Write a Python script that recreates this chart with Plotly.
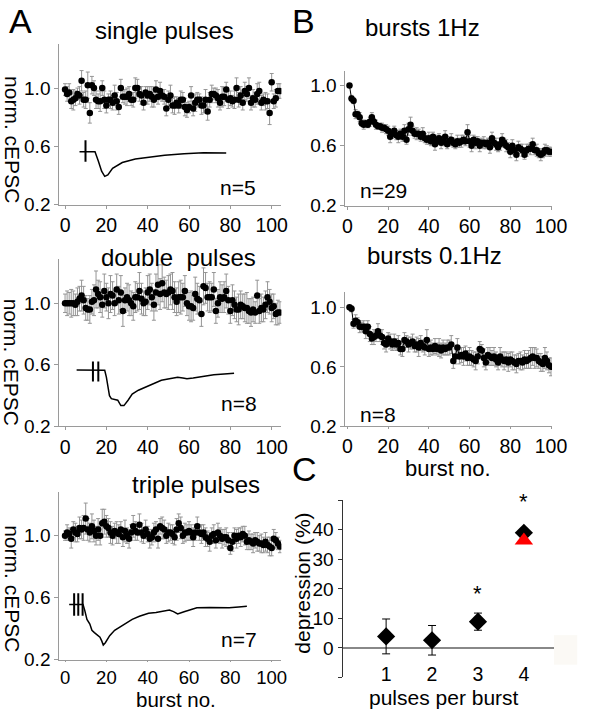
import plotly.graph_objects as go

FONT = "Liberation Sans, Arial, sans-serif"

# ---------------- data ----------------
burst_A = list(range(0, 105))
burst_B = list(range(1, 101))

single_mean = [0.99,0.96,0.97,0.91,0.92,0.93,0.96,0.95,1.05,0.92,0.92,1.02,0.83,1.02,1.00,
0.92,0.91,0.91,1.00,0.92,0.88,0.92,0.92,0.90,0.95,0.91,0.87,1.00,0.94,0.94,
0.94,0.96,0.92,0.92,1.00,1.00,0.96,0.95,0.90,0.97,0.95,0.96,0.94,0.92,0.99,
0.94,0.98,0.95,0.94,0.86,0.92,0.95,0.88,0.88,0.90,0.88,0.92,0.92,0.87,0.85,
0.87,0.95,0.86,0.90,0.92,0.92,0.88,0.88,0.92,0.84,0.92,0.96,0.96,0.95,0.93,
0.90,0.94,0.94,0.99,0.92,0.93,0.91,0.92,1.00,0.92,0.95,0.90,0.98,0.96,1.00,
0.90,0.93,0.92,0.96,0.98,0.90,0.92,0.91,0.91,0.83,1.04,0.91,0.93,0.98,0.98]
single_err = [0.04,0.05,0.06,0.05,0.07,0.05,0.04,0.06,0.07,0.05,0.06,0.09,0.07,0.06,0.05,
0.06,0.05,0.07,0.05,0.06,0.05,0.04,0.06,0.05,0.07,0.06,0.05,0.06,0.04,0.05,
0.06,0.05,0.04,0.05,0.07,0.06,0.05,0.06,0.05,0.04,0.06,0.05,0.07,0.05,0.06,
0.05,0.06,0.04,0.05,0.05,0.06,0.07,0.05,0.06,0.04,0.05,0.06,0.05,0.06,0.05,
0.04,0.06,0.05,0.06,0.05,0.04,0.06,0.05,0.07,0.06,0.05,0.06,0.04,0.05,0.06,
0.05,0.07,0.06,0.05,0.06,0.05,0.04,0.06,0.07,0.05,0.06,0.05,0.06,0.05,0.07,
0.05,0.06,0.05,0.07,0.06,0.05,0.04,0.06,0.05,0.08,0.06,0.05,0.06,0.05,0.05]

double_mean = [1.00,1.00,1.00,1.00,1.00,0.99,1.01,1.03,1.05,1.02,0.97,0.96,0.96,1.01,1.02,
1.09,1.06,1.04,0.99,1.08,1.04,1.00,1.06,1.05,1.00,1.09,1.02,1.07,0.95,1.02,
1.04,1.02,1.00,0.98,1.04,1.04,1.08,1.03,1.00,1.01,1.07,1.09,1.04,0.99,1.07,
1.12,1.06,1.13,1.07,1.06,1.07,1.09,1.08,1.04,1.01,1.04,1.04,1.04,1.08,1.00,
0.98,0.98,0.97,1.06,1.03,1.02,0.93,1.11,1.10,1.04,1.04,1.04,1.09,0.95,1.00,
1.04,1.03,1.04,1.08,1.02,0.95,1.02,0.99,0.96,0.96,0.99,0.98,0.97,0.97,0.95,
0.94,0.96,0.94,1.05,0.95,0.97,0.96,0.99,1.04,1.01,0.97,0.98,0.93,0.94,0.94]
double_err = [0.06,0.08,0.07,0.09,0.08,0.07,0.09,0.08,0.10,0.09,0.08,0.07,0.09,0.08,0.10,
0.12,0.09,0.10,0.08,0.11,0.09,0.10,0.12,0.09,0.08,0.10,0.09,0.11,0.10,0.08,
0.09,0.10,0.08,0.09,0.10,0.09,0.12,0.10,0.08,0.09,0.11,0.10,0.09,0.10,0.12,
0.13,0.10,0.12,0.10,0.09,0.11,0.10,0.12,0.10,0.09,0.10,0.11,0.09,0.10,0.08,
0.09,0.10,0.08,0.11,0.10,0.09,0.08,0.12,0.10,0.09,0.10,0.09,0.11,0.08,0.09,
0.10,0.09,0.10,0.11,0.09,0.08,0.10,0.09,0.08,0.10,0.09,0.08,0.09,0.10,0.08,
0.09,0.08,0.07,0.10,0.08,0.09,0.08,0.09,0.10,0.08,0.09,0.08,0.07,0.08,0.07]

triple_mean = [1.00,1.02,1.01,0.98,1.04,1.02,1.01,1.05,1.04,1.05,1.11,1.04,1.02,1.06,1.03,
1.00,1.04,1.00,1.08,1.09,1.06,1.05,1.02,1.00,1.03,1.02,1.01,1.04,0.99,1.03,
1.00,0.98,1.02,1.06,1.03,1.02,1.07,1.02,1.00,1.04,1.01,0.98,0.99,1.02,1.04,
0.98,1.06,1.05,1.04,1.00,1.02,1.02,1.01,0.99,1.04,1.08,1.05,1.00,1.02,1.02,
1.03,1.02,0.99,1.02,1.06,1.02,1.01,1.02,0.99,0.98,0.96,1.00,1.01,0.97,1.02,
1.00,0.98,0.99,0.99,0.97,0.92,0.96,1.00,0.98,1.00,0.99,1.01,1.00,0.96,0.97,
0.96,0.95,0.97,0.96,0.95,0.95,0.94,0.96,0.94,0.93,0.92,0.98,0.97,0.95,0.93]
triple_err = [0.03,0.05,0.04,0.06,0.05,0.06,0.05,0.07,0.06,0.08,0.10,0.07,0.06,0.08,0.07,
0.06,0.07,0.06,0.09,0.08,0.07,0.06,0.07,0.06,0.05,0.07,0.06,0.05,0.06,0.07,
0.05,0.06,0.05,0.07,0.06,0.05,0.07,0.06,0.05,0.06,0.05,0.06,0.05,0.06,0.05,
0.06,0.05,0.07,0.06,0.05,0.06,0.05,0.06,0.05,0.07,0.06,0.07,0.05,0.06,0.05,
0.06,0.05,0.06,0.05,0.06,0.05,0.06,0.05,0.06,0.05,0.06,0.05,0.06,0.05,0.06,
0.05,0.06,0.05,0.06,0.05,0.04,0.06,0.05,0.06,0.05,0.06,0.05,0.06,0.05,0.06,
0.05,0.06,0.05,0.06,0.05,0.06,0.05,0.06,0.05,0.06,0.05,0.06,0.05,0.04,0.04]

hz1_mean = [1.00,0.915,0.90,0.81,0.81,0.79,0.75,0.74,0.75,0.74,
0.76,0.79,0.76,0.74,0.73,0.73,0.72,0.72,0.71,0.70,
0.66,0.68,0.70,0.67,0.66,0.68,0.66,0.70,0.64,0.71,
0.74,0.70,0.68,0.68,0.68,0.66,0.68,0.65,0.64,0.65,
0.63,0.66,0.61,0.64,0.65,0.62,0.63,0.66,0.61,0.63,
0.64,0.62,0.61,0.63,0.62,0.63,0.64,0.63,0.69,0.63,
0.60,0.64,0.62,0.63,0.60,0.62,0.62,0.61,0.62,0.59,
0.65,0.62,0.61,0.59,0.61,0.64,0.62,0.60,0.59,0.56,
0.60,0.57,0.54,0.59,0.58,0.57,0.54,0.57,0.58,0.58,
0.61,0.57,0.57,0.55,0.54,0.55,0.57,0.57,0.56,0.56]
hz1_err = [0.005,0.02,0.02,0.03,0.02,0.03,0.02,0.03,0.02,0.02,
0.03,0.03,0.02,0.03,0.02,0.02,0.03,0.02,0.03,0.03,
0.04,0.03,0.03,0.03,0.04,0.03,0.03,0.04,0.03,0.04,
0.05,0.03,0.03,0.04,0.03,0.03,0.04,0.03,0.03,0.04,
0.03,0.03,0.04,0.03,0.03,0.04,0.03,0.04,0.03,0.03,
0.04,0.03,0.03,0.04,0.03,0.04,0.03,0.03,0.05,0.04,
0.04,0.03,0.04,0.03,0.04,0.03,0.04,0.03,0.03,0.04,
0.04,0.03,0.04,0.03,0.04,0.04,0.03,0.04,0.03,0.04,
0.04,0.03,0.04,0.04,0.03,0.04,0.03,0.04,0.03,0.04,
0.04,0.03,0.04,0.03,0.04,0.03,0.04,0.03,0.03,0.03]

hz01_mean = [1.00,0.99,0.89,0.91,0.90,0.87,0.87,0.87,0.84,0.87,
0.82,0.79,0.80,0.81,0.84,0.81,0.80,0.76,0.75,0.79,
0.77,0.75,0.77,0.75,0.76,0.72,0.72,0.78,0.77,0.75,
0.76,0.77,0.74,0.75,0.73,0.76,0.74,0.73,0.78,0.72,
0.73,0.72,0.74,0.72,0.73,0.71,0.73,0.72,0.73,0.73,
0.75,0.64,0.67,0.73,0.67,0.68,0.67,0.69,0.66,0.67,
0.66,0.65,0.64,0.67,0.72,0.71,0.66,0.63,0.68,0.67,
0.66,0.67,0.65,0.63,0.67,0.65,0.64,0.65,0.63,0.65,
0.64,0.63,0.62,0.64,0.64,0.63,0.65,0.64,0.65,0.66,
0.67,0.66,0.66,0.64,0.63,0.62,0.66,0.64,0.61,0.60]
hz01_err = [0.01,0.02,0.03,0.04,0.03,0.04,0.03,0.04,0.05,0.04,
0.05,0.04,0.05,0.04,0.05,0.04,0.05,0.04,0.05,0.04,
0.05,0.04,0.05,0.04,0.05,0.04,0.05,0.05,0.04,0.05,
0.04,0.05,0.04,0.05,0.06,0.05,0.04,0.05,0.07,0.05,
0.05,0.04,0.05,0.04,0.06,0.05,0.05,0.04,0.05,0.05,
0.06,0.05,0.05,0.06,0.05,0.05,0.06,0.05,0.05,0.06,
0.05,0.05,0.06,0.05,0.05,0.04,0.06,0.05,0.05,0.06,
0.05,0.06,0.05,0.05,0.06,0.05,0.06,0.05,0.06,0.05,
0.06,0.05,0.06,0.05,0.06,0.05,0.06,0.05,0.06,0.07,
0.06,0.07,0.06,0.05,0.06,0.05,0.07,0.06,0.05,0.06]

# example current traces (inset), in panel data units
wave1_x = [7, 9.9, 12, 14.5, 16.1, 17.7, 19.2, 20.7, 23, 27.7, 34, 40.4, 48.2, 57.6, 67, 78]
wave1_y = [0.563, 0.565, 0.566, 0.563, 0.50, 0.43, 0.395, 0.405, 0.45, 0.49, 0.514, 0.528, 0.54, 0.55, 0.557, 0.555]
stim1_x = [9.9]
wave2_x = [5.6, 12, 16, 19.2, 20, 20.7, 21.5, 22.4, 24, 25.5, 27, 28.5, 30.5, 32.5, 35.5, 38.8,
           42.5, 46.6, 50.5, 54.5, 57, 59, 62, 67, 72, 77, 81.8]
wave2_y = [0.567, 0.568, 0.568, 0.565, 0.52, 0.45, 0.40, 0.38, 0.375, 0.37, 0.335, 0.335, 0.37, 0.41,
           0.435, 0.455, 0.48, 0.50, 0.51, 0.52, 0.515, 0.51, 0.515, 0.525, 0.535, 0.54, 0.545]
stim2_x = [13.5, 16.1]
wave3_x = [2, 4.4, 6.4, 8.7, 9.5, 10.6, 12, 13, 14.2, 15.3, 16.9, 17.8, 18.5, 19.5, 21.6, 24, 26.3,
           29, 32.5, 36, 40.4, 44, 48.2, 50.5, 52.5, 54.5, 57.6, 60, 63.8, 70, 75, 79.4, 84, 88]
wave3_y = [0.556, 0.556, 0.556, 0.556, 0.52, 0.46, 0.43, 0.39, 0.375, 0.36, 0.345, 0.32, 0.295, 0.31,
           0.355, 0.39, 0.41, 0.435, 0.46, 0.48, 0.50, 0.505, 0.515, 0.52, 0.51, 0.495, 0.51, 0.52,
           0.535, 0.537, 0.535, 0.535, 0.54, 0.545]
stim3_x = [4.4, 6.4, 8.5]
stim_top = [0.643, 0.621, 0.629]
stim_bot = [0.496, 0.492, 0.483]

pulses = [1, 2, 3, 4]
depression = [3.9, 2.6, 8.9, 39.0]
depression_err = [5.9, 5.0, 2.9, 1.0]
red_x = [4]
red_y = [36.4]
sig_x = [3, 4]
sig_y = [18.6, 50.0]

titles_A = ["single pulses", "double\u00a0 pulses", "triple pulses"]
n_A = ["n=5", "n=8", "n=7"]
titles_B = ["bursts 1Hz", "bursts 0.1Hz"]
n_B = ["n=29", "n=8"]

# ---------------- figure ----------------
W, H = 600, 720
def px(x): return x / W
def py(y): return 1 - y / H

fig = go.Figure()
ERR_GRAY = "#959595"
AX_GRAY = "#9a9a9a"

A_series = [(single_mean, single_err), (double_mean, double_err), (triple_mean, triple_err)]
waves = [(wave1_x, wave1_y, stim1_x), (wave2_x, wave2_y, stim2_x), (wave3_x, wave3_y, stim3_x)]
for i, ((m, e), (wx, wy, sx)) in enumerate(zip(A_series, waves)):
    xa = "x" if i == 0 else f"x{i+1}"
    ya = "y" if i == 0 else f"y{i+1}"
    fig.add_trace(go.Scatter(x=burst_A, y=m, mode="markers", xaxis=xa, yaxis=ya,
                             marker=dict(color="black", size=6.5),
                             error_y=dict(type="data", array=e, color=ERR_GRAY, thickness=1, width=2),
                             showlegend=False, hoverinfo="skip"))
    fig.add_trace(go.Scatter(x=wx, y=wy, mode="lines", xaxis=xa, yaxis=ya,
                             line=dict(color="black", width=1.5), showlegend=False, hoverinfo="skip"))
    sxx, syy = [], []
    for s in sx:
        sxx += [s, s, None]
        syy += [stim_top[i], stim_bot[i], None]
    fig.add_trace(go.Scatter(x=sxx, y=syy, mode="lines", xaxis=xa, yaxis=ya,
                             line=dict(color="black", width=2), showlegend=False, hoverinfo="skip"))

B_series = [(hz1_mean, hz1_err), (hz01_mean, hz01_err)]
for j, (m, e) in enumerate(B_series):
    xa, ya = f"x{4+j}", f"y{4+j}"
    fig.add_trace(go.Scatter(x=burst_B, y=m, mode="lines+markers", xaxis=xa, yaxis=ya,
                             marker=dict(color="black", size=6.5),
                             line=dict(color="black", width=1),
                             error_y=dict(type="data", array=e, color=ERR_GRAY, thickness=1, width=2),
                             showlegend=False, hoverinfo="skip"))

fig.add_trace(go.Scatter(x=pulses, y=depression, mode="markers", xaxis="x6", yaxis="y6",
                         marker=dict(symbol="diamond", color="black", size=14),
                         error_y=dict(type="data", array=depression_err, color="black", thickness=1, width=4),
                         showlegend=False, hoverinfo="skip"))
fig.add_trace(go.Scatter(x=red_x, y=red_y, mode="markers", xaxis="x6", yaxis="y6",
                         marker=dict(symbol="triangle-up", color="#ff0000", size=16),
                         showlegend=False, hoverinfo="skip"))

tickfont = dict(family=FONT, size=19, color="black")
xtickfont = dict(family=FONT, size=19.5, color="black")

def xax(dom, rng, anchor, tl=3, fs=19.5):
    return dict(domain=dom, range=rng, anchor=anchor, showline=True, linecolor=AX_GRAY, linewidth=1,
                ticks="outside", ticklen=tl, tickcolor=AX_GRAY, tickvals=[0, 20, 40, 60, 80, 100],
                showgrid=False, zeroline=False, tickfont=dict(family=FONT, size=fs, color="black"),
                fixedrange=True)

def yax(dom, rng, anchor):
    return dict(domain=dom, range=rng, anchor=anchor, showline=True, linecolor=AX_GRAY, linewidth=1,
                ticks="outside", ticklen=4, tickcolor=AX_GRAY, tickvals=[0.2, 0.6, 1.0],
                ticktext=["0.2", "0.6", "1.0"], showgrid=False, zeroline=False, tickfont=tickfont,
                fixedrange=True)

xA = [px(58), px(287)]
xB = [px(353), px(566)]
layout = dict(
    autosize=True, margin=dict(l=0, r=0, t=0, b=0),
    paper_bgcolor="white", plot_bgcolor="white", showlegend=False,
    xaxis=xax(xA, [-2.8, 104.7], "y"),
    yaxis=yax([py(208), py(45)], [0.2, 1.3], "x"),
    xaxis2=xax(xA, [-2.8, 104.7], "y2"),
    yaxis2=yax([py(433), py(263)], [0.2, 1.288], "x2"),
    xaxis3=xax(xA, [-2.8, 104.7], "y3", tl=1, fs=18.5),
    yaxis3=yax([py(670), py(500)], [0.2, 1.279], "x3"),
    xaxis4=xax(xB, [-1, 100.5], "y4"),
    yaxis4=yax([py(209), py(72)], [0.2, 1.098], "x4"),
    xaxis5=xax(xB, [-1, 100.5], "y5", tl=2),
    yaxis5=yax([py(433), py(297)], [0.2, 1.1], "x5"),
    xaxis6=dict(domain=[px(350), px(568)], range=[0.05, 4.655], anchor="free", position=py(671),
                showline=False, ticks="", tickvals=pulses, showgrid=False, zeroline=False,
                tickfont=xtickfont, fixedrange=True),
    yaxis6=dict(domain=[py(688), py(508)], range=[-10, 50], anchor="x6", showline=True,
                linecolor="#333333", linewidth=1, ticks="outside", ticklen=4, tickcolor="#333333",
                tickvals=[-10, 0, 10, 20, 30, 40, 50], ticktext=["", "0", "10", "20", "30", "40", ""],
                showgrid=False, zeroline=True, zerolinecolor="#888888", zerolinewidth=1.5,
                tickfont=tickfont, fixedrange=True),
)
fig.update_layout(**layout)

ann = []
def text(x, y, s, size, angle=0, xanchor="center"):
    ann.append(dict(x=px(x), y=py(y), xref="paper", yref="paper", text=s, showarrow=False,
                    font=dict(family=FONT, size=size, color="black"), textangle=angle,
                    xanchor=xanchor, yanchor="middle"))

text(4, 21, "A", 34, xanchor="left")
text(296, 21, "B", 34, xanchor="left")
text(296, 476, "C", 34, xanchor="left")

for s, (x, y) in zip(titles_A, [(167, 31), (181, 262), (199, 492)]):
    text(x, y, s, 24)
for s, (x, y) in zip(n_A, [(242, 190), (243, 410), (243, 649)]):
    text(x, y, s, 21)
for s, (x, y) in zip(titles_B, [(432, 28), (445, 259)]):
    text(x, y, s, 24)
for s, (x, y) in zip(n_B, [(392, 193), (387, 421)]):
    text(x, y, s, 21)
for y in [142, 368, 598]:
    text(9, y, "norm. cEPSC", 21, angle=90)
text(309, 592, "depression (%)", 21, angle=-90)
text(178, 710.5, "burst no.", 20.5)
text(459, 476, "burst no.", 22)
text(455, 708, "pulses per burst", 21)

for x, y in zip(sig_x, sig_y):
    ann.append(dict(x=x, y=y, xref="x6", yref="y6", text="*", showarrow=False, yshift=-1,
                    font=dict(family=FONT, size=22, color="black"), xanchor="center", yanchor="middle"))

fig.update_layout(annotations=ann)
fig.add_shape(type="rect", xref="paper", yref="paper", x0=px(568), x1=px(592), y0=py(675), y1=py(645),
              fillcolor="#fbf9f5", line=dict(width=0), layer="below")

fig.write_html("out.html", config={"displayModeBar": False},
               default_width="600px",
               default_height="720px; position:absolute; left:0; top:0",
               post_script="document.body.style.margin='0px';")
